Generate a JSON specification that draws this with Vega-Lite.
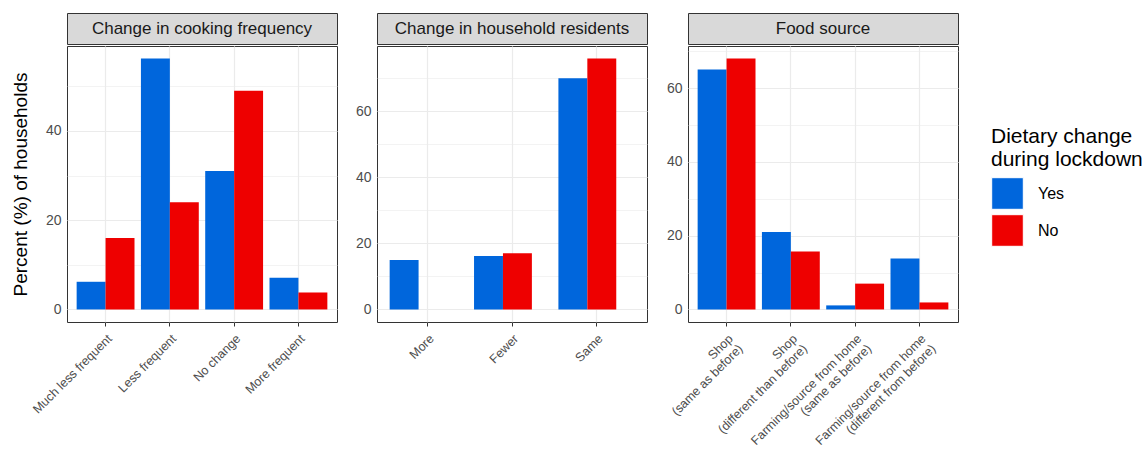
{
  "$schema": "https://vega.github.io/schema/vega-lite/v6.json",
  "padding": {"left": 10, "top": 12, "right": 5, "bottom": 2},
  "background": "white",
  "datasets": {
    "d": [
      {"panel": "Change in cooking frequency", "category": "Much less frequent", "diet": "Yes", "percent": 6.2},
      {"panel": "Change in cooking frequency", "category": "Much less frequent", "diet": "No", "percent": 16},
      {"panel": "Change in cooking frequency", "category": "Less frequent", "diet": "Yes", "percent": 56.2},
      {"panel": "Change in cooking frequency", "category": "Less frequent", "diet": "No", "percent": 24},
      {"panel": "Change in cooking frequency", "category": "No change", "diet": "Yes", "percent": 31},
      {"panel": "Change in cooking frequency", "category": "No change", "diet": "No", "percent": 49},
      {"panel": "Change in cooking frequency", "category": "More frequent", "diet": "Yes", "percent": 7.1},
      {"panel": "Change in cooking frequency", "category": "More frequent", "diet": "No", "percent": 3.8},
      {"panel": "Change in household residents", "category": "More", "diet": "Yes", "percent": 15},
      {"panel": "Change in household residents", "category": "Fewer", "diet": "Yes", "percent": 16.2},
      {"panel": "Change in household residents", "category": "Fewer", "diet": "No", "percent": 17},
      {"panel": "Change in household residents", "category": "Same", "diet": "Yes", "percent": 70},
      {"panel": "Change in household residents", "category": "Same", "diet": "No", "percent": 76},
      {"panel": "Food source", "category": "Shop\n(same as before)", "diet": "Yes", "percent": 65},
      {"panel": "Food source", "category": "Shop\n(same as before)", "diet": "No", "percent": 68},
      {"panel": "Food source", "category": "Shop\n(different than before)", "diet": "Yes", "percent": 21},
      {"panel": "Food source", "category": "Shop\n(different than before)", "diet": "No", "percent": 15.7},
      {"panel": "Food source", "category": "Farming/source from home\n(same as before)", "diet": "Yes", "percent": 1.1},
      {"panel": "Food source", "category": "Farming/source from home\n(same as before)", "diet": "No", "percent": 7},
      {"panel": "Food source", "category": "Farming/source from home\n(different from before)", "diet": "Yes", "percent": 13.8},
      {"panel": "Food source", "category": "Farming/source from home\n(different from before)", "diet": "No", "percent": 1.9}
    ],
    "strips": [
      {"panel": "Change in cooking frequency"},
      {"panel": "Change in household residents"},
      {"panel": "Food source"}
    ]
  },
  "spacing": 16,
  "hconcat": [
    {
      "spacing": 0,
      "vconcat": [
        {
          "width": 270, "height": 31,
          "data": {"name": "strips"},
          "transform": [{"filter": "datum.panel === 'Change in cooking frequency'"}],
          "view": {"fill": "#d9d9d9", "stroke": "#333333"},
          "mark": {"type": "text", "fontSize": 17, "color": "#1a1a1a"},
          "encoding": {"text": {"field": "panel"}}
        },
        {
          "width": 270, "height": 276,
          "data": {"name": "d"},
          "transform": [{"filter": "datum.panel === 'Change in cooking frequency'"}],
          "view": {"stroke": "#333333", "fill": "white"},
          "mark": {"type": "bar"},
          "encoding": {
            "x": {"field": "category", "type": "nominal", "sort": ["Much less frequent", "Less frequent", "No change", "More frequent"],
                  "scale": {"paddingInner": 0.1, "paddingOuter": 0.15}, "title": null},
            "xOffset": {"field": "diet", "type": "nominal", "scale": {"domain": ["Yes", "No"], "paddingInner": 0, "paddingOuter": 0}},
            "y": {"field": "percent", "type": "quantitative", "scale": {"domain": [-2.81, 59.01], "nice": false, "zero": false},
                  "axis": {"values": [0, 10, 20, 30, 40, 50], "title": "Percent (%) of households"}},
            "color": {"field": "diet", "type": "nominal", "scale": {"domain": ["Yes", "No"], "range": ["#0066DC", "#EE0000"]},
                      "legend": {"title": ["Dietary change", "during lockdown"]}}
          }
        }
      ]
    },
    {
      "spacing": 10,
      "hconcat": [
        {
          "spacing": 0,
          "vconcat": [
            {
              "width": 270, "height": 31,
              "data": {"name": "strips"},
              "transform": [{"filter": "datum.panel === 'Change in household residents'"}],
              "view": {"fill": "#d9d9d9", "stroke": "#333333"},
              "mark": {"type": "text", "fontSize": 17, "color": "#1a1a1a"},
              "encoding": {"text": {"field": "panel"}}
            },
            {
              "width": 270, "height": 276,
              "data": {"name": "d"},
              "transform": [{"filter": "datum.panel === 'Change in household residents'"}],
              "view": {"stroke": "#333333", "fill": "white"},
              "mark": {"type": "bar"},
              "encoding": {
                "x": {"field": "category", "type": "nominal", "sort": ["More", "Fewer", "Same"],
                      "scale": {"paddingInner": 0.1, "paddingOuter": 0.15}, "title": null},
                "xOffset": {"field": "diet", "type": "nominal", "scale": {"domain": ["Yes", "No"], "paddingInner": 0, "paddingOuter": 0}},
                "y": {"field": "percent", "type": "quantitative", "scale": {"domain": [-3.8, 79.8], "nice": false, "zero": false},
                      "axis": {"values": [0, 10, 20, 30, 40, 50, 60, 70], "title": null}},
                "color": {"field": "diet", "type": "nominal", "scale": {"domain": ["Yes", "No"], "range": ["#0066DC", "#EE0000"]}}
              }
            }
          ]
        },
        {
          "spacing": 0,
          "vconcat": [
            {
              "width": 270, "height": 31,
              "data": {"name": "strips"},
              "transform": [{"filter": "datum.panel === 'Food source'"}],
              "view": {"fill": "#d9d9d9", "stroke": "#333333"},
              "mark": {"type": "text", "fontSize": 17, "color": "#1a1a1a"},
              "encoding": {"text": {"field": "panel"}}
            },
            {
              "width": 270, "height": 276,
              "data": {"name": "d"},
              "transform": [{"filter": "datum.panel === 'Food source'"}],
              "view": {"stroke": "#333333", "fill": "white"},
              "mark": {"type": "bar"},
              "encoding": {
                "x": {"field": "category", "type": "nominal",
                      "sort": ["Shop\n(same as before)", "Shop\n(different than before)", "Farming/source from home\n(same as before)", "Farming/source from home\n(different from before)"],
                      "scale": {"paddingInner": 0.1, "paddingOuter": 0.15}, "title": null},
                "xOffset": {"field": "diet", "type": "nominal", "scale": {"domain": ["Yes", "No"], "paddingInner": 0, "paddingOuter": 0}},
                "y": {"field": "percent", "type": "quantitative", "scale": {"domain": [-3.4, 71.4], "nice": false, "zero": false},
                      "axis": {"values": [0, 10, 20, 30, 40, 50, 60, 70], "title": null}},
                "color": {"field": "diet", "type": "nominal", "scale": {"domain": ["Yes", "No"], "range": ["#0066DC", "#EE0000"]}}
              }
            }
          ]
        }
      ]
    }
  ],
  "config": {
    "font": "Liberation Sans",
    "view": {"stroke": "#333333"},
    "axis": {
      "domain": false,
      "tickColor": "#333333",
      "tickSize": 4,
      "labelColor": "#4d4d4d",
      "labelPadding": 2,
      "gridColor": "#ebebeb",
      "titleFontWeight": "normal",
      "titleColor": "#000000"
    },
    "axisX": {
      "grid": true,
      "bandPosition": 0.5,
      "labelAngle": -45,
      "labelAlign": "right",
      "labelBaseline": "top",
      "labelPadding": 6,
      "labelFontSize": 12.5,
      "labelLineHeight": 14,
      "labelExpr": "split(datum.label, '\\n')",
      "gridWidth": 1.2,
      "labelLimit": 300
    },
    "axisY": {
      "labelFontSize": 14,
      "titleFontSize": 19,
      "titlePadding": 15,
      "labelExpr": "datum.value % 20 === 0 ? datum.label : ''",
      "tickOpacity": {"condition": {"test": "datum.value % 20 === 0", "value": 1}, "value": 0},
      "gridWidth": {"condition": {"test": "datum.value % 20 === 0", "value": 1.2}, "value": 0.6}
    },
    "legend": {
      "orient": "none",
      "legendX": 924,
      "legendY": 113,
      "titleFontSize": 21,
      "titleFontWeight": "normal",
      "titleColor": "#000000",
      "titleLimit": 300,
      "titlePadding": 7,
      "titleLineHeight": 23,
      "symbolType": "square",
      "symbolSize": 1000,
      "symbolStrokeWidth": 1,
      "symbolStrokeColor": "white",
      "symbolOpacity": 1,
      "labelFontSize": 16,
      "labelColor": "#000000",
      "labelOffset": 14,
      "rowPadding": 0
    }
  }
}
